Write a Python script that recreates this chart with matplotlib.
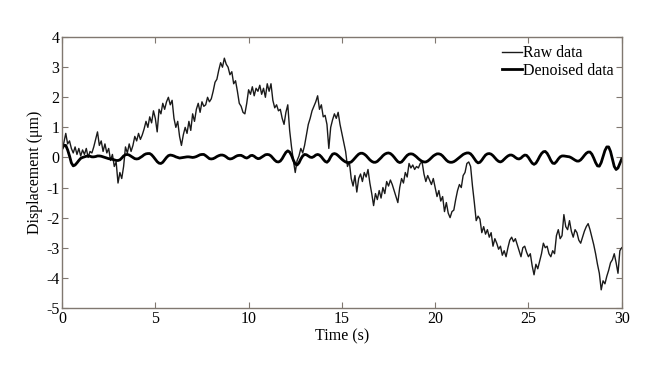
import numpy as np
import matplotlib
matplotlib.use("Agg")
import matplotlib.pyplot as plt

# time base (s), 0.1 s steps from 0 to 30
t_start, t_end, t_step = 0.0, 30.0, 0.1

raw_data = [
    0.2, 0.5, 0.8, 0.45, 0.55, 0.3, 0.15, 0.35, 0.1, 0.3,
    0.05, 0.25, 0.1, 0.3, 0.0, 0.2, 0.15, 0.35, 0.6, 0.85,
    0.4, 0.55, 0.2, 0.45, 0.15, 0.3, -0.1, 0.1, -0.3, -0.15,
    -0.85, -0.5, -0.7, -0.3, 0.35, 0.15, 0.45, 0.2, 0.4, 0.7,
    0.55, 0.8, 0.6, 0.75, 0.95, 1.2, 1.0, 1.35, 1.15, 1.55,
    1.3, 0.85, 1.6, 1.45, 1.8, 1.6, 1.85, 2.0, 1.75, 1.9,
    1.3, 1.0, 1.2, 0.7, 0.4, 0.75, 1.0, 0.8, 1.2, 0.9,
    1.45, 1.2, 1.6, 1.8, 1.5, 1.85, 1.7, 1.75, 2.0, 1.85,
    1.95, 2.2, 2.5, 2.6, 2.9, 3.15, 3.0, 3.3, 3.1, 3.0,
    2.75, 2.85, 2.45, 2.55, 2.2, 1.8, 1.7, 1.5, 1.45, 1.8,
    2.25, 2.1, 2.35, 2.05, 2.3, 2.2, 2.4, 2.1, 2.3, 2.0,
    2.45, 2.2, 2.45, 1.9, 1.65, 1.75, 1.55, 1.6, 1.3, 1.1,
    1.5, 1.75, 0.9, 0.35, -0.1, -0.5, -0.1, 0.05, 0.3, 0.15,
    0.4, 0.75, 1.1, 1.3, 1.55, 1.7, 1.85, 2.05, 1.6, 1.75,
    1.35, 1.4, 1.1, 0.3, 1.0, 1.25, 1.45, 1.3, 1.5, 1.1,
    0.8, 0.5, 0.2, -0.3, -0.15, -0.7, -0.95, -0.6, -1.15, -0.7,
    -0.55, -0.8, -0.5, -0.65, -0.4, -0.85, -1.2, -1.6, -1.2, -1.4,
    -1.1, -1.35, -1.0, -1.2, -0.8, -0.95, -0.75, -0.9, -1.1, -1.3,
    -1.5, -1.0, -0.7, -0.85, -0.5, -0.65, -0.2, -0.35, -0.25, -0.4,
    -0.3, -0.35, -0.2, -0.15, -0.55, -0.8, -0.6, -0.75, -0.9, -0.7,
    -1.0, -1.3, -1.1, -1.45, -1.3, -1.8, -1.5, -1.85, -2.0, -1.8,
    -1.75, -1.4, -1.1, -0.9, -1.0, -0.6, -0.5, -0.2, -0.15, -0.3,
    -0.95, -1.5, -2.1, -1.95, -2.05, -2.5, -2.3, -2.55, -2.4, -2.65,
    -2.5, -2.95, -2.7, -2.85, -3.05, -2.95, -3.25, -3.1, -3.3, -3.0,
    -2.75, -2.65, -2.8, -2.7, -2.9, -3.1, -3.3, -3.0, -2.95, -3.15,
    -3.3, -3.2, -3.6, -3.9, -3.55, -3.7, -3.45, -3.2, -2.85, -3.0,
    -2.95, -3.2, -3.3, -3.1, -3.2, -2.6, -2.4, -2.7, -2.6, -1.9,
    -2.3, -2.4, -2.1, -2.45, -2.65, -2.4, -2.5, -2.75, -2.85, -2.65,
    -2.45, -2.3, -2.2, -2.4, -2.65, -2.9, -3.2, -3.55, -3.85, -4.4,
    -4.1, -4.2, -3.95, -3.75, -3.5, -3.4, -3.2, -3.5, -3.85, -3.1,
    -3.0,
]

denoised_data = [
    0.30, 0.40, 0.40, 0.25, 0.05, -0.18, -0.28, -0.25, -0.18, -0.10,
    -0.03, 0.00, 0.02, 0.04, 0.05, 0.04, 0.02, 0.02, 0.03, 0.05,
    0.05, 0.04, 0.02, 0.00, -0.02, -0.04, -0.05, -0.06, -0.08, -0.10,
    -0.10, -0.08, -0.02, 0.05, 0.09, 0.10, 0.08, 0.04, 0.00, -0.04,
    -0.05, -0.04, 0.00, 0.04, 0.09, 0.12, 0.13, 0.13, 0.09, 0.02,
    -0.06, -0.14, -0.19, -0.20, -0.16, -0.08, 0.00, 0.06, 0.08, 0.07,
    0.05, 0.02, 0.00, -0.02, -0.01, 0.00, 0.01, 0.02, 0.02, 0.01,
    0.00, 0.01, 0.03, 0.06, 0.09, 0.10, 0.10, 0.06, 0.01, -0.04,
    -0.05, -0.04, -0.01, 0.03, 0.06, 0.08, 0.08, 0.06, 0.02, -0.03,
    -0.05, -0.04, -0.01, 0.03, 0.06, 0.07, 0.07, 0.04, 0.00, -0.02,
    0.01, 0.06, 0.07, 0.04, -0.01, -0.04, -0.03, 0.01, 0.05, 0.09,
    0.10, 0.09, 0.05, -0.02, -0.09, -0.14, -0.15, -0.12, -0.04, 0.07,
    0.17, 0.22, 0.18, 0.07, -0.09, -0.22, -0.25, -0.18, -0.05, 0.05,
    0.10, 0.09, 0.05, 0.01, 0.00, 0.03, 0.08, 0.10, 0.08, 0.02,
    -0.06, -0.13, -0.16, -0.10, 0.02, 0.11, 0.13, 0.11, 0.06, 0.00,
    -0.06, -0.11, -0.15, -0.17, -0.17, -0.15, -0.09, -0.02, 0.05, 0.11,
    0.14, 0.14, 0.11, 0.06, -0.01, -0.08, -0.13, -0.16, -0.16, -0.13,
    -0.07, -0.01, 0.06, 0.11, 0.14, 0.15, 0.13, 0.08, 0.01, -0.07,
    -0.14, -0.17, -0.15, -0.08, 0.00, 0.07, 0.11, 0.12, 0.11, 0.07,
    0.02, -0.04, -0.09, -0.13, -0.15, -0.15, -0.12, -0.07, -0.01, 0.05,
    0.09, 0.12, 0.12, 0.10, 0.05, -0.02, -0.09, -0.14, -0.16, -0.16,
    -0.14, -0.10, -0.05, 0.00, 0.05, 0.10, 0.13, 0.15, 0.15, 0.12,
    0.05, -0.04, -0.13, -0.18, -0.16, -0.09, 0.00, 0.08, 0.12, 0.13,
    0.11, 0.06, -0.01, -0.08, -0.13, -0.15, -0.12, -0.06, 0.00, 0.05,
    0.08, 0.08, 0.05, 0.00, -0.04, -0.05, -0.02, 0.04, 0.08, 0.07,
    0.00, -0.10, -0.19, -0.23, -0.19, -0.09, 0.03, 0.13, 0.19, 0.20,
    0.14, 0.03, -0.10, -0.19, -0.20, -0.14, -0.05, 0.02, 0.05, 0.05,
    0.04, 0.03, 0.02, -0.01, -0.05, -0.09, -0.12, -0.12, -0.08, -0.01,
    0.07, 0.14, 0.18, 0.18, 0.11, -0.02, -0.17, -0.28, -0.29, -0.17,
    0.03, 0.23, 0.35, 0.35, 0.20, -0.05, -0.30, -0.40, -0.35, -0.20,
    -0.05,
]

x_ticks = [0, 5, 10, 15, 20, 25, 30]
y_ticks = [-5, -4, -3, -2, -1, 0, 1, 2, 3, 4]
x_label = "Time (s)"
y_label = "Displacement (μm)"
series_labels = ["Raw data", "Denoised data"]

t = np.linspace(t_start, t_end, len(raw_data))

plt.rcParams['font.family'] = ['Liberation Serif', 'DejaVu Serif']

fig = plt.figure(figsize=(6.6, 3.75), dpi=100)
ax = fig.add_axes([0.094, 0.179, 0.848, 0.722])

ax.plot(t, raw_data, color='#1a1a1a', lw=1.0, label=series_labels[0])
ax.plot(t, denoised_data, color='black', lw=2.0, label=series_labels[1])

ax.set_xlim(0, 30)
ax.set_ylim(-5, 4)
ax.set_xticks(x_ticks)
ax.set_yticks(y_ticks)
ax.set_xticklabels([str(v) for v in x_ticks])
ax.set_yticklabels([str(v) for v in y_ticks])

spine_color = '#807870'
for s in ax.spines.values():
    s.set_color(spine_color)
    s.set_linewidth(1.0)
ax.tick_params(direction='in', length=4, width=0.8, color=spine_color,
               top=True, right=True, labelsize=11.5, pad=2, labelcolor='black')

ax.set_xlabel(x_label, fontsize=11.5, labelpad=1)
ax.set_ylabel(y_label, fontsize=11.5, labelpad=2)

leg = ax.legend(loc='upper right', frameon=False, fontsize=11.5,
                handlelength=1.2, handletextpad=0.1, borderaxespad=0.1,
                labelspacing=0.1)

fig.savefig("out.png", dpi=100)
